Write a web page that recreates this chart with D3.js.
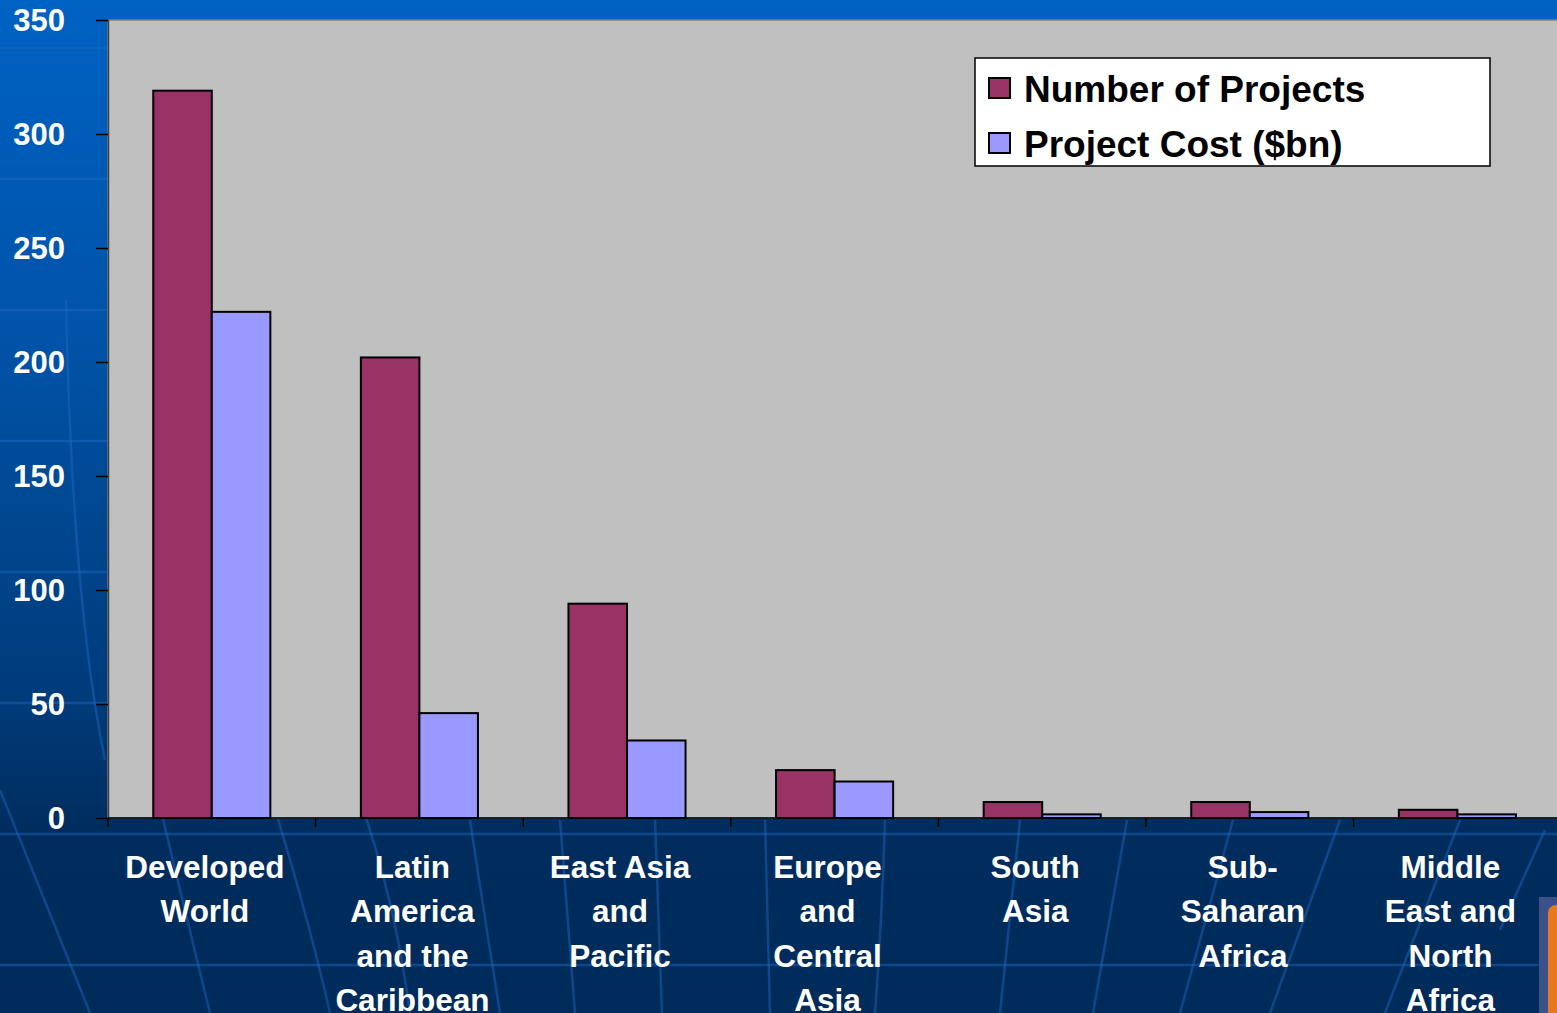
<!DOCTYPE html>
<html>
<head>
<meta charset="utf-8">
<script src="https://cdn.jsdelivr.net/npm/d3@7"></script>
<style>
  html, body { margin: 0; padding: 0; background: #002C5C; overflow: hidden; }
  svg { display: block; }
</style>
</head>
<body>
<svg id="chart" width="1557" height="1013"></svg>
<script>
const categories = [
  ["Developed", "World"],
  ["Latin", "America", "and the", "Caribbean"],
  ["East Asia", "and", "Pacific"],
  ["Europe", "and", "Central", "Asia"],
  ["South", "Asia"],
  ["Sub-", "Saharan", "Africa"],
  ["Middle", "East and", "North", "Africa"]
];
const seriesNames = ["Number of Projects", "Project Cost ($bn)"];
const numberOfProjects = [319, 202, 94, 21, 7, 7, 3.6];
const projectCost = [222, 46, 34, 16, 1.6, 2.6, 1.6];
const yTicks = [0, 50, 100, 150, 200, 250, 300, 350];

const colors = ["#993366", "#9999FF"];
const W = 1557, H = 1013;
const svg = d3.select("#chart");
const FONT = "'Liberation Sans', Arial, sans-serif";

// background gradient
const defs = svg.append("defs");
const grad = defs.append("linearGradient").attr("id", "bg").attr("x1", 0).attr("y1", 0).attr("x2", 0).attr("y2", 1);
grad.append("stop").attr("offset", "0%").attr("stop-color", "#0062C4");
grad.append("stop").attr("offset", "35%").attr("stop-color", "#0052A6");
grad.append("stop").attr("offset", "70%").attr("stop-color", "#003A78");
grad.append("stop").attr("offset", "82%").attr("stop-color", "#002D5E");
grad.append("stop").attr("offset", "100%").attr("stop-color", "#002B5A");
svg.append("rect").attr("width", W).attr("height", H).attr("fill", "url(#bg)");

// decorative globe grid lines
const deco = svg.append("g").attr("fill", "none").attr("stroke", "#1F6BC4").attr("stroke-opacity", 0.45).attr("stroke-width", 2.5);
[48, 179, 310, 441, 572, 703, 834, 965].forEach(y => {
  deco.append("line").attr("x1", 0).attr("x2", W).attr("y1", y).attr("y2", y);
});
const curves = [
  "M66,300 Q72,600 105,760",
  "M0,790 L90,1013",
  "M130,680 Q170,850 210,1013",
  "M240,700 Q300,880 330,1013",
  "M360,800 Q395,900 410,1013",
  "M470,820 Q485,920 500,1013",
  "M560,820 Q568,920 575,1013",
  "M655,820 L662,1013",
  "M765,820 L770,1013",
  "M885,820 Q882,920 875,1013",
  "M1020,820 L1000,1013",
  "M1127,820 L1093,1013",
  "M1233,820 L1180,1013",
  "M1340,820 L1270,1013",
  "M1460,820 L1385,1013",
  "M1545,830 L1500,930"
];
curves.forEach(d => deco.append("path").attr("d", d));

// orange corner object
svg.append("rect").attr("x", 1539).attr("y", 897).attr("width", 30).attr("height", 130).attr("fill", "#3C5189");
svg.append("rect").attr("x", 1548).attr("y", 905).attr("width", 30).attr("height", 120).attr("rx", 8).attr("fill", "#E8781E");

// scales
const plotLeft = 108, plotTop = 20, plotBottom = 818;
const step = 207.6;
const x = d3.scaleBand().domain(d3.range(categories.length))
  .range([plotLeft, plotLeft + step * categories.length])
  .paddingInner(0.436).paddingOuter(0.218);
const xs = d3.scaleBand().domain([0, 1]).range([0, x.bandwidth()]);
const y = d3.scaleLinear().domain([0, 350]).range([plotBottom, plotTop]);

// plot area
svg.append("rect").attr("x", plotLeft).attr("y", plotTop).attr("width", W - plotLeft + 10).attr("height", plotBottom - plotTop)
  .attr("fill", "#C0C0C0").attr("stroke", "#808080").attr("stroke-width", 1.5);

// bars
const data = categories.map((c, i) => [numberOfProjects[i], projectCost[i]]);
const groups = svg.append("g").selectAll("g").data(data).join("g")
  .attr("transform", (d, i) => `translate(${x(i)},0)`);
groups.selectAll("rect").data(d => d.map((v, j) => ({v, j}))).join("rect")
  .attr("x", d => xs(d.j))
  .attr("y", d => y(d.v))
  .attr("width", xs.bandwidth())
  .attr("height", d => y(0) - y(d.v))
  .attr("fill", d => colors[d.j])
  .attr("stroke", "#000").attr("stroke-width", 2);

// y axis
const yAxis = svg.append("g").attr("transform", `translate(${plotLeft},0)`)
  .call(d3.axisLeft(y).tickValues(yTicks).tickSize(12).tickPadding(31).tickFormat(d3.format("d")));
yAxis.select(".domain").attr("stroke", "#404040").attr("stroke-width", 1.5);
yAxis.selectAll(".tick line").attr("stroke", "#000").attr("stroke-width", 1.5);
yAxis.selectAll(".tick text").attr("fill", "#fff")
  .attr("font-family", FONT).attr("font-weight", "bold").attr("font-size", 31)
  .attr("dy", "0.35em");

// x axis
const xAxisG = svg.append("g");
xAxisG.append("line").attr("x1", plotLeft).attr("x2", W).attr("y1", plotBottom).attr("y2", plotBottom)
  .attr("stroke", "#000").attr("stroke-width", 1.5);
const boundaries = d3.range(categories.length + 1).map(i => plotLeft + i * step);
xAxisG.selectAll("line.tk").data(boundaries).join("line").attr("class", "tk")
  .attr("x1", d => d).attr("x2", d => d).attr("y1", plotBottom).attr("y2", plotBottom + 9)
  .attr("stroke", "#000").attr("stroke-width", 1.5);

const labelG = svg.append("g").attr("font-family", FONT)
  .attr("font-weight", "bold").attr("font-size", 31.5).attr("fill", "#fff").attr("text-anchor", "middle");
categories.forEach((lines, i) => {
  const cx = x(i) + x.bandwidth() / 2 - 7;
  const t = labelG.append("text").attr("x", cx).attr("y", 878);
  lines.forEach((ln, k) => {
    t.append("tspan").attr("x", cx).attr("y", 878 + k * 44.3).text(ln);
  });
});

// legend
const lg = svg.append("g").attr("transform", "translate(975,58)");
lg.append("rect").attr("width", 515).attr("height", 108).attr("fill", "#fff").attr("stroke", "#000").attr("stroke-width", 1.5);
seriesNames.forEach((name, i) => {
  const row = lg.append("g").attr("transform", `translate(0,${20 + i * 55})`);
  row.append("rect").attr("x", 14).attr("y", 0).attr("width", 21).attr("height", 20)
    .attr("fill", colors[i]).attr("stroke", "#000").attr("stroke-width", 2);
  row.append("text").attr("x", 49).attr("y", 11).attr("dy", "0.35em")
    .attr("font-family", FONT).attr("font-weight", "bold").attr("font-size", 37)
    .attr("fill", "#000").text(name);
});
</script>
</body>
</html>
